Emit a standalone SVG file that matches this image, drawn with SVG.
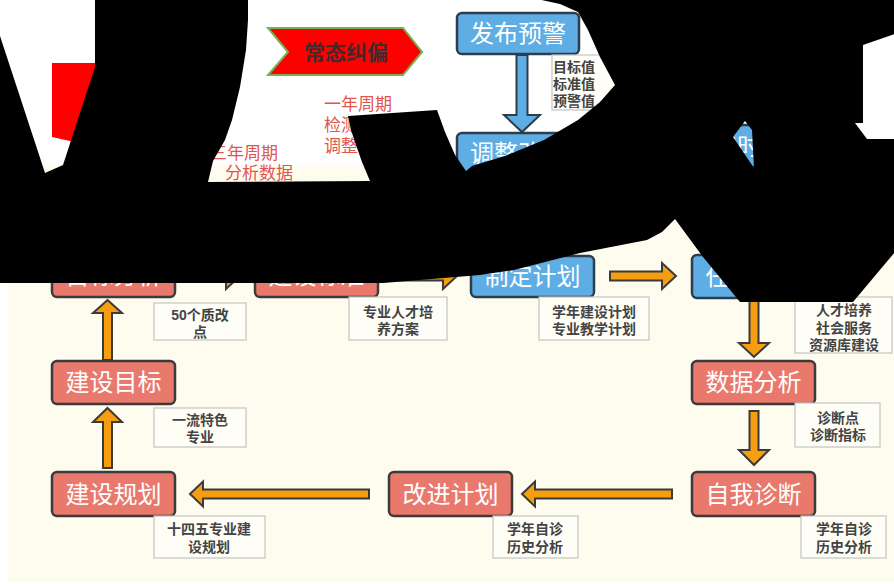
<svg xmlns="http://www.w3.org/2000/svg" width="894" height="584" viewBox="0 0 894 584">
<style>
text{font-family:"Liberation Sans","Noto Sans CJK SC","Noto Sans CJK JP",sans-serif}
.rb{fill:#ea796d;stroke:#3b3b3b;stroke-width:2.5}
.bb{fill:#5eaee5;stroke:#2e3d4c;stroke-width:2.5}
.lbl{fill:#fff;font-size:24px;text-anchor:middle}
.note{fill:#fffef6;stroke:#c4c4c4;stroke-width:1.2}
.nt{fill:#444;font-size:14px;font-weight:700;text-anchor:middle}
.arr{fill:#f59f10;stroke:#3a3a3a;stroke-width:2;stroke-linejoin:miter}
.barr{fill:#5eaee5;stroke:#2e3d4c;stroke-width:2}
.rt{fill:#e0564f;font-size:17px}
</style>
<rect x="0" y="0" width="894" height="584" fill="#fff"/>
<rect x="8" y="165" width="886" height="417" fill="#fdfcef"/>

<g id="topleft-red"><polygon points="52,63 110,63 110,150 52,137" fill="#ff0000"/></g>

<g id="changtai">
<polygon points="268,28 403,28 422,52 403,75 268,75 288,52" fill="#ff0000" stroke="#7aae52" stroke-width="2"/>
<text x="346" y="60" font-size="21" font-weight="700" fill="#45292a" text-anchor="middle">常态纠偏</text>
</g>

<g id="red-notes">
<text class="rt" x="324" y="110">一年周期<tspan x="324" dy="21">检测数据</tspan><tspan x="324" dy="21">调整目标</tspan></text>
<text class="rt" x="210" y="159">三年周期<tspan x="225" dy="20">分析数据</tspan></text>
</g>

<g id="connectors">
<polygon class="barr" points="516.5,55 527.5,55 527.5,115 540,115 522,132 504,115 516.5,115"/>
<polygon class="arr" points="188,271.5 226,271.5 226,263 240,276 226,289 226,280.5 188,280.5"/>
<polygon class="arr" points="390,271.5 443,271.5 443,263 457,276 443,289 443,280.5 390,280.5"/>
<polygon class="arr" points="610,271.5 662,271.5 662,263 676,276 662,289 662,280.5 610,280.5"/>
<polygon class="arr" points="107.5,300 122,313 112,313 112,360 103,360 103,313 93,313"/>
<polygon class="arr" points="107.5,408 122,422 112,422 112,468 103,468 103,422 93,422"/>
<polygon class="arr" points="749.5,300 758.5,300 758.5,343 769,343 754,357 739,343 749.5,343"/>
<polygon class="arr" points="749.5,411 758.5,411 758.5,450 769,450 754,465 739,450 749.5,450"/>
<polygon class="arr" points="190,494 203,481.5 203,489.5 369,489.5 369,498.5 203,498.5 203,506.5"/>
<polygon class="arr" points="522,494 535,481.5 535,489.5 672,489.5 672,498.5 535,498.5 535,506.5"/>
</g>

<g id="fabu"><rect class="bb" x="457" y="13" width="122" height="41" rx="5"/><text class="lbl" x="518" y="42" font-size="23">发布预警</text></g>
<g id="yujing-note"><rect class="note" x="552" y="55" width="90" height="55" fill="#fff"/>
<text class="nt" x="574" y="72" text-anchor="start" font-size="13">目标值<tspan x="574" dy="17">标准值</tspan><tspan x="574" dy="17">预警值</tspan></text></g>
<g id="tiaozheng"><rect class="bb" x="457" y="133" width="122" height="42" rx="5"/><text class="lbl" x="518" y="162">调整改进</text></g>
<g id="jiance"><rect class="bb" x="700" y="125" width="122" height="42" rx="5"/><text class="lbl" x="761" y="155">实时监测</text></g>

<g id="mubiaofenxi"><rect class="rb" x="52" y="254" width="123" height="43" rx="5"/><text class="lbl" x="113.5" y="284">目标分析</text></g>
<g id="jianshebiaozhun"><rect class="rb" x="255" y="254" width="123" height="43" rx="5"/><text class="lbl" x="316.5" y="284">建设标准</text></g>
<g id="zhidingjihua"><rect class="bb" x="471" y="256" width="123" height="41" rx="5"/><text class="lbl" x="532.5" y="285">制定计划</text></g>
<g id="renwu"><rect class="bb" x="692" y="255" width="123" height="43" rx="5"/><text class="lbl" x="753.5" y="285">任务实施</text></g>

<g id="jianshemubiao"><rect class="rb" x="52" y="361" width="123" height="43" rx="5"/><text class="lbl" x="113.5" y="391">建设目标</text></g>
<g id="shujufenxi"><rect class="rb" x="692" y="361" width="123" height="43" rx="5"/><text class="lbl" x="753.5" y="391">数据分析</text></g>
<g id="jianseguihua"><rect class="rb" x="52" y="472" width="123" height="44" rx="5"/><text class="lbl" x="113.5" y="503">建设规划</text></g>
<g id="gaijinjihua"><rect class="rb" x="389" y="472" width="123" height="44" rx="5"/><text class="lbl" x="450.5" y="503">改进计划</text></g>
<g id="ziwozhenduan"><rect class="rb" x="692" y="472" width="123" height="44" rx="5"/><text class="lbl" x="753.5" y="503">自我诊断</text></g>

<g id="n1"><rect class="note" x="154" y="303" width="92" height="37"/><text class="nt" x="200" y="320">50个质改<tspan x="200" dy="17">点</tspan></text></g>
<g id="n2"><rect class="note" x="349" y="297" width="98" height="43"/><text class="nt" x="398" y="317">专业人才培<tspan x="398" dy="17">养方案</tspan></text></g>
<g id="n3"><rect class="note" x="539" y="297" width="110" height="43"/><text class="nt" x="594" y="317">学年建设计划<tspan x="594" dy="17">专业教学计划</tspan></text></g>
<g id="n4"><rect class="note" x="795" y="297" width="97" height="56"/><text class="nt" x="844" y="315">人才培养<tspan x="844" dy="18">社会服务</tspan><tspan x="844" dy="17">资源库建设</tspan></text></g>
<g id="n5"><rect class="note" x="154" y="408" width="92" height="39"/><text class="nt" x="200" y="425">一流特色<tspan x="200" dy="17">专业</tspan></text></g>
<g id="n6"><rect class="note" x="795" y="403" width="85" height="44"/><text class="nt" x="838" y="423">诊断点<tspan x="838" dy="17">诊断指标</tspan></text></g>
<g id="n7"><rect class="note" x="154" y="516" width="111" height="42"/><text class="nt" x="209" y="534">十四五专业建<tspan x="209" dy="18">设规划</tspan></text></g>
<g id="n8"><rect class="note" x="493" y="516" width="85" height="42"/><text class="nt" x="535" y="534">学年自诊<tspan x="535" dy="18">历史分析</tspan></text></g>
<g id="n9"><rect class="note" x="801" y="516" width="85" height="42"/><text class="nt" x="844" y="534">学年自诊<tspan x="844" dy="18">历史分析</tspan></text></g>

<path id="blackout" fill="#000" fill-rule="evenodd" d="M0,0 H894 V584 H0 Z
M-1,-1 L95,-1 L95,67 L63,165 L45,173 L-1,33 Z
M248,-1 L537,-1 L560,4 L578,12 L588,30 L600,57 L615,85 L600,102 L578,120 L544,140 L505,156 L472,166 L466,171 L455,155 L445,132 L437,110 L348,116 L351,130 L356,145 L362,162 L370,181 L208,182 L213,161 L225,140 L232,120 L240,87 L246,50 L248,20 Z
M745,121 L752,130 L754,168 L733,137 Z
M863,45 L895,34 L895,139 L867,139 L855,123 L863,123 Z
M-1,283 L383,283 L480,275 L514,270 L580,253 L647,240 L662,232 L675,219 L703,257 L740,302 L853,302 L895,252 L895,585 L-1,585 Z"/>
</svg>
